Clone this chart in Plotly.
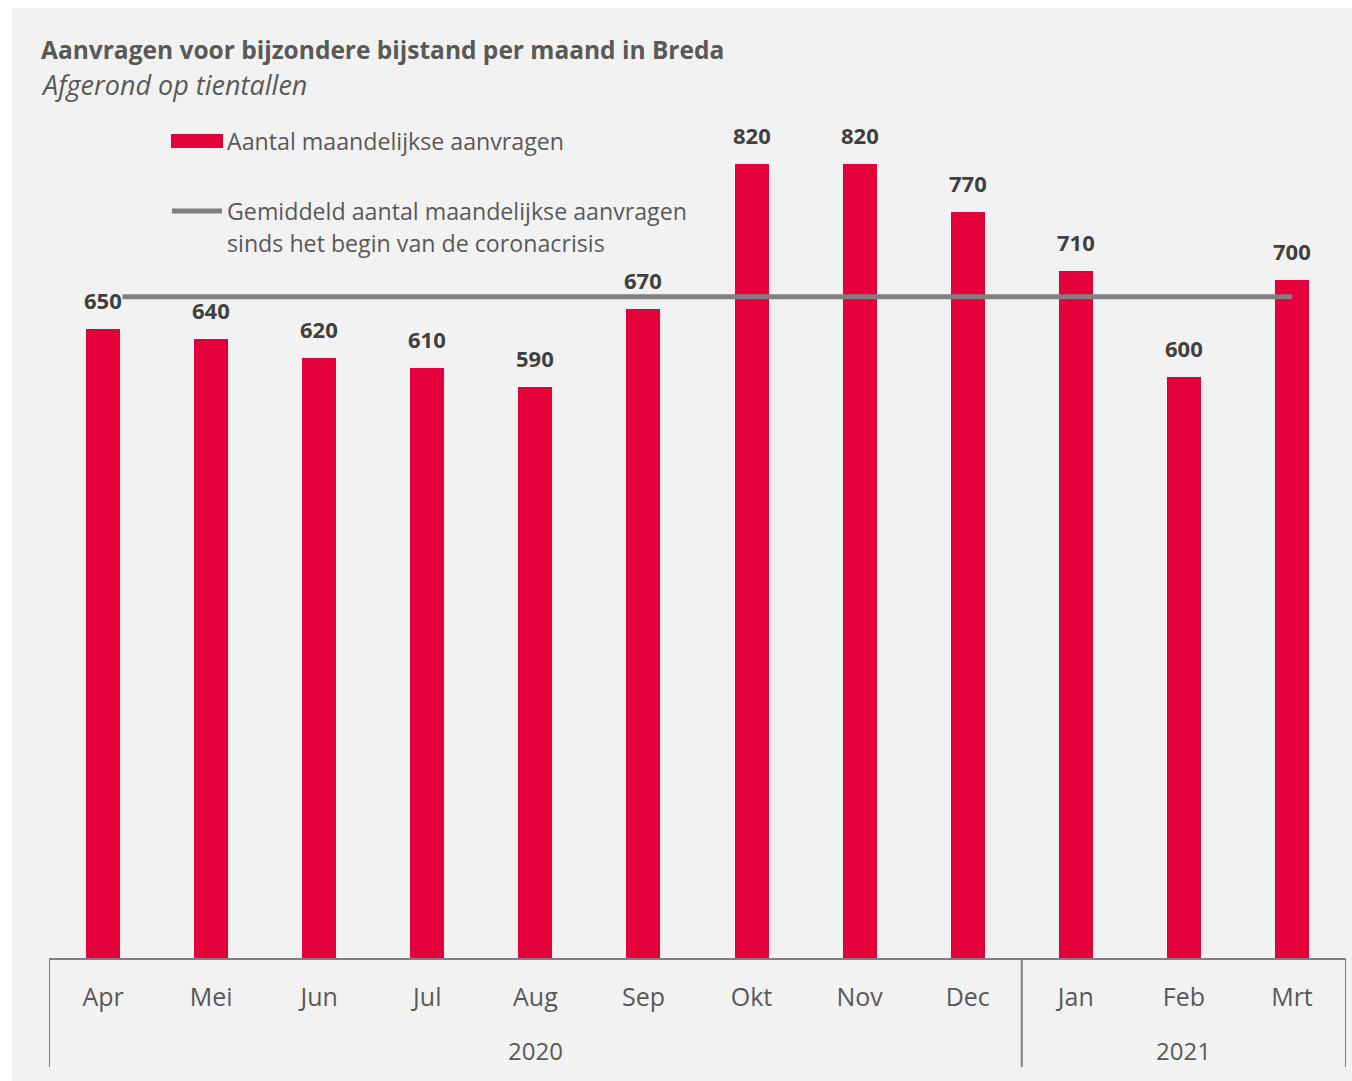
import plotly.graph_objects as go

months = ["Apr", "Mei", "Jun", "Jul", "Aug", "Sep", "Okt", "Nov", "Dec", "Jan", "Feb", "Mrt"]
years = ["2020", "2020", "2020", "2020", "2020", "2020", "2020", "2020", "2020", "2021", "2021", "2021"]
aanvragen = [650, 640, 620, 610, 590, 670, 820, 820, 770, 710, 600, 700]
gemiddeld = [683, 683, 683, 683, 683, 683, 683, 683, 683, 683, 683, 683]
year_labels = ["2020", "2021"]

W, H = 1352, 1081
# plot area in screen pixels
L, R, T, B = 49, 1346, 130, 959
pw, ph = R - L, B - T
scale = (B - 164) / 820.0  # px per unit

def px(x):
    return (x - L) / pw

def py(y):
    return (B - y) / ph

RED = "#E4003A"
GREY = "#808080"
TXT = "#595959"
FONT = "Open Sans"

xi = list(range(len(months)))

fig = go.Figure()
fig.add_trace(go.Bar(x=xi, y=aanvragen, marker=dict(color=RED, line=dict(width=0)),
                     width=0.315, showlegend=False, hoverinfo="y"))
fig.add_trace(go.Scatter(x=xi, y=gemiddeld, mode="lines",
                         line=dict(color=GREY, width=5), showlegend=False, hoverinfo="y"))

ann = []
for i, v in enumerate(aanvragen):
    centre = v + 27 / scale
    overl = abs(centre - gemiddeld[i]) < 10
    ann.append(dict(x=i, y=v, xref="x", yref="y", text="<b>%d</b>" % v, showarrow=False,
                    yanchor="bottom", yshift=13,
                    bgcolor="#f2f2f2" if overl else "rgba(0,0,0,0)", borderpad=0,
                    font=dict(family=FONT, size=22, color="#404040")))

groups = {}
for i, yv in enumerate(years):
    groups.setdefault(yv, []).append(i)
for yl in year_labels:
    idx = groups[yl]
    ann.append(dict(x=(idx[0] + idx[-1]) / 2, y=py(1050), xref="x", yref="paper", text=yl,
                    showarrow=False, yanchor="middle",
                    font=dict(family=FONT, size=24, color=TXT)))

ann.append(dict(x=px(39), y=py(49), xref="paper", yref="paper", xanchor="left", yanchor="middle",
                text="<b>Aanvragen voor bijzondere bijstand per maand in Breda</b>", showarrow=False,
                font=dict(family=FONT, size=24.5, color=TXT)))
ann.append(dict(x=px(39), y=py(85), xref="paper", yref="paper", xanchor="left", yanchor="middle",
                text="<i>Afgerond op tientallen</i>", showarrow=False,
                font=dict(family=FONT, size=27, color=TXT)))

for txt, yy in [("Aantal maandelijkse aanvragen", 141),
                ("Gemiddeld aantal maandelijkse aanvragen", 211),
                ("sinds het begin van de coronacrisis", 243)]:
    ann.append(dict(x=px(225), y=py(yy), xref="paper", yref="paper", xanchor="left", yanchor="middle",
                    text=txt, showarrow=False, font=dict(family=FONT, size=23.2, color=TXT)))

shapes = [
    dict(type="rect", xref="paper", yref="paper", x0=px(12), x1=px(1352), y0=py(1081), y1=py(8),
         fillcolor="#f2f2f2", line=dict(width=0), layer="below"),
    dict(type="rect", xref="paper", yref="paper", x0=px(171), x1=px(223), y0=py(148), y1=py(134),
         fillcolor=RED, line=dict(width=0)),
    dict(type="line", xref="paper", yref="paper", x0=px(172), x1=px(222), y0=py(211), y1=py(211),
         line=dict(color=GREY, width=5)),
    dict(type="line", xref="paper", yref="paper", x0=0, x1=1, y0=0, y1=0,
         line=dict(color=GREY, width=2)),
]
seps = [-0.5]
for yl in year_labels[:-1]:
    seps.append(groups[yl][-1] + 0.5)
seps.append(len(months) - 0.5)
for s in seps:
    shapes.append(dict(type="line", xref="x", yref="paper", x0=s, x1=s, y0=py(1067), y1=0,
                       line=dict(color=GREY, width=2)))

fig.update_layout(
    width=W, height=H,
    margin=dict(l=L, r=W - R, t=T, b=H - B, pad=0),
    paper_bgcolor="white", plot_bgcolor="rgba(0,0,0,0)",
    xaxis=dict(tickmode="array", tickvals=xi, ticktext=months, range=[-0.5, len(months) - 0.5],
               showgrid=False, zeroline=False, showline=False, ticks="",
               ticklabelstandoff=21,
               tickfont=dict(family=FONT, size=25, color=TXT)),
    yaxis=dict(range=[0, ph / scale], visible=False, showgrid=False, zeroline=False),
    annotations=ann, shapes=shapes, bargap=0,
)

fig.write_html("out.html", config={"displayModeBar": False},
               post_script="document.body.style.margin='0';document.body.style.overflow='hidden';")
